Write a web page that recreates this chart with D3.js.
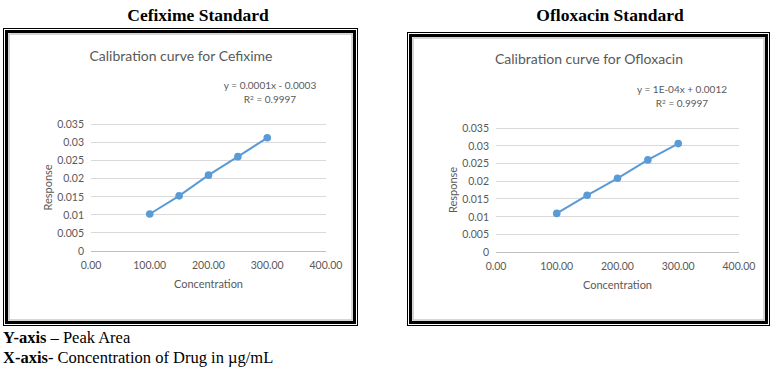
<!DOCTYPE html>
<html>
<head>
<meta charset="utf-8">
<script src="https://cdn.jsdelivr.net/npm/d3@7"></script>
<style>
  body { margin: 0; background: #fff; }
  svg { display: block; }
</style>
</head>
<body>
<div id="main"></div>
<script>
// values
const concentrations = [100, 150, 200, 250, 300];
const cefiximeResponse = [0.0102, 0.0152, 0.0209, 0.0260, 0.0312];
const ofloxacinResponse = [0.0109, 0.0160, 0.0208, 0.0260, 0.0306];
const xTicks = [0, 100, 200, 300, 400];
const yTicks = [0, 0.005, 0.01, 0.015, 0.02, 0.025, 0.03, 0.035];

const chartFont = "Lato, 'Open Sans', sans-serif";
const serif = "'Liberation Serif', 'Times New Roman', serif";
const blue = "#5b9bd5";

let svg = d3.select('#main').append('svg').attr('width', 782).attr('height', 376);

let panels = [
    {
        heading: 'Cefixime Standard', headX: 198,
        box: [3, 28, 358, 326],
        title: 'Calibration curve for Cefixime', titleX: 181, titleY: 61,
        eq: 'y = 0.0001x - 0.0003', eqX: 270, eqY: 89,
        plot: [91, 124, 326, 251],
        values: cefiximeResponse
    },
    {
        heading: 'Ofloxacin Standard', headX: 610,
        box: [407, 32, 770, 326],
        title: 'Calibration curve for Ofloxacin', titleX: 589, titleY: 64,
        eq: 'y = 1E-04x + 0.0012', eqX: 682, eqY: 93,
        plot: [496, 128, 739, 252],
        values: ofloxacinResponse
    }
];

panels.forEach(p => {
    let g = svg.append('g');

    g.append('text')
        .attr('x', p.headX).attr('y', 21)
        .attr('text-anchor', 'middle')
        .style('font-family', serif).style('font-weight', 'bold').style('font-size', '17.5px')
        .text(p.heading);

    // double frame: thin outer line, thick band, grey shadow inside
    let [bx0, by0, bx1, by1] = p.box;
    g.append('rect')
        .attr('x', bx0 + 0.5).attr('y', by0 + 0.5)
        .attr('width', bx1 - bx0 - 1).attr('height', by1 - by0 - 1)
        .attr('fill', 'none').attr('stroke', '#000').attr('stroke-width', 1);
    g.append('rect')
        .attr('x', bx0 + 3.5).attr('y', by0 + 3.5)
        .attr('width', bx1 - bx0 - 7).attr('height', by1 - by0 - 7)
        .attr('fill', 'none').attr('stroke', '#000').attr('stroke-width', 3);
    g.append('rect')
        .attr('x', bx0 + 6).attr('y', by0 + 6)
        .attr('width', bx1 - bx0 - 12).attr('height', by1 - by0 - 12)
        .attr('fill', 'none').attr('stroke', '#c8c8c8').attr('stroke-width', 1.5);

    g.append('text')
        .attr('x', p.titleX).attr('y', p.titleY)
        .attr('text-anchor', 'middle')
        .style('font-family', chartFont).style('font-size', '14px').style('fill', '#595959')
        .text(p.title);

    let eq = g.append('text')
        .attr('text-anchor', 'middle')
        .style('font-family', chartFont).style('font-size', '10px').style('fill', '#595959');
    eq.append('tspan').attr('x', p.eqX).attr('y', p.eqY).text(p.eq);
    let r2 = eq.append('tspan').attr('x', p.eqX).attr('y', p.eqY + 13.5);
    r2.append('tspan').text('R');
    r2.append('tspan').attr('dy', -3).style('font-size', '6.5px').text('2');
    r2.append('tspan').attr('dy', 3).text(' = 0.9997');

    let [px0, py0, px1, py1] = p.plot;
    let x = d3.scaleLinear().domain([0, 400]).range([px0, px1]);
    let y = d3.scaleLinear().domain([0, 0.035]).range([py1, py0]);

    g.append('g').selectAll('line')
        .data(yTicks)
        .enter()
        .append('line')
        .attr('x1', px0).attr('x2', px1)
        .attr('y1', d => y(d)).attr('y2', d => y(d))
        .attr('stroke', d => d === 0 ? '#bfbfbf' : '#d9d9d9')
        .attr('stroke-width', 1)
        .attr('shape-rendering', 'crispEdges');

    g.append('g').selectAll('text')
        .data(yTicks)
        .enter()
        .append('text')
        .attr('x', px0 - 7).attr('y', d => y(d) + 4)
        .attr('text-anchor', 'end')
        .style('font-family', chartFont).style('font-size', '10.5px').style('fill', '#595959')
        .text(d => String(+d.toFixed(3)));

    g.append('g').selectAll('text')
        .data(xTicks)
        .enter()
        .append('text')
        .attr('x', d => x(d)).attr('y', py1 + 18)
        .attr('text-anchor', 'middle')
        .style('font-family', chartFont).style('font-size', '10.5px').style('fill', '#595959')
        .text(d => d3.format('.2f')(d));

    g.append('text')
        .attr('x', (px0 + px1) / 2).attr('y', py1 + 37)
        .attr('text-anchor', 'middle')
        .style('font-family', chartFont).style('font-size', '11px').style('fill', '#595959')
        .text('Concentration');

    g.append('text')
        .attr('transform', `translate(${px0 - 39}, ${(py0 + py1) / 2}) rotate(-90)`)
        .attr('text-anchor', 'middle')
        .style('font-family', chartFont).style('font-size', '11px').style('fill', '#595959')
        .text('Response');

    let pts = concentrations.map((c, i) => [c, p.values[i]]);
    let line = d3.line().x(d => x(d[0])).y(d => y(d[1]));

    g.append('path')
        .datum(pts)
        .attr('d', line)
        .attr('fill', 'none').attr('stroke', blue).attr('stroke-width', 2);

    g.append('g').selectAll('circle')
        .data(pts)
        .enter()
        .append('circle')
        .attr('cx', d => x(d[0])).attr('cy', d => y(d[1]))
        .attr('r', 3.8)
        .attr('fill', blue);
});

let notes = svg.append('g').style('font-family', serif).style('font-size', '16.5px');
let n1 = notes.append('text').attr('x', 3).attr('y', 343);
n1.append('tspan').style('font-weight', 'bold').text('Y-axis');
n1.append('tspan').text(' \u2013 Peak Area');
let n2 = notes.append('text').attr('x', 3).attr('y', 363);
n2.append('tspan').style('font-weight', 'bold').text('X-axis');
n2.append('tspan').text('- Concentration of Drug in \u00b5g/mL');
</script>
</body>
</html>
